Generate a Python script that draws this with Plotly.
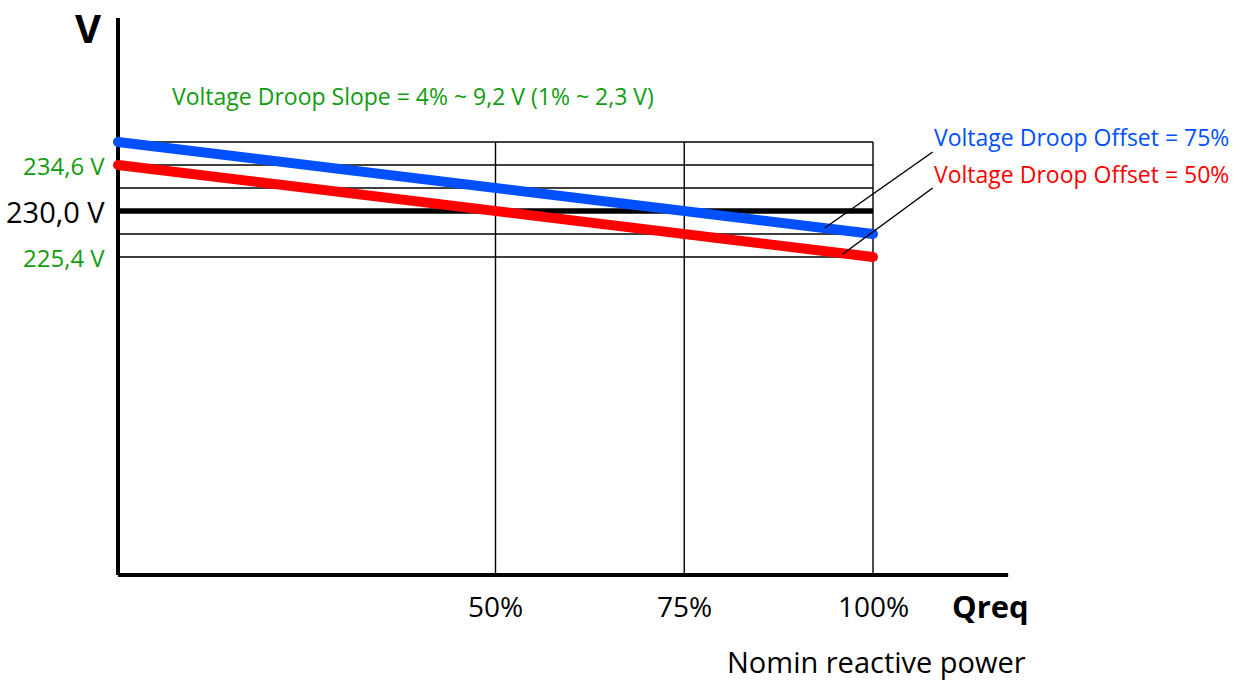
import plotly.graph_objects as go

# Reactive power request (% of nominal) and resulting voltage set points
q_pct = [0, 100]
v_offset_75 = [236.9, 227.7]
v_offset_50 = [234.6, 225.4]
v_nominal = [230.0, 230.0]

# Horizontal reference levels (2,3 V steps) and vertical reference lines
grid_levels = [236.9, 234.6, 232.3, 227.7, 225.4]
q_grid = [50, 75, 100]
q_tick_labels = ["50%", "75%", "100%"]

# Voltage labels on the left side
v_labels = [234.6, 230.0, 225.4]
v_label_text = ["234,6 V", "230,0 V", "225,4 V"]
v_label_colors = ["#119c11", "#000000", "#119c11"]

# Axis extents
x_axis_end = 117.9
y_axis_top = 249.3
y_axis_bottom = 193.6

GREEN = "#119c11"
BLUE = "#0050ff"
RED = "#ff0000"
FONT = "Open Sans"

fig = go.Figure()

# thin grid lines
for lvl in grid_levels:
    fig.add_trace(go.Scatter(x=[0, 100], y=[lvl, lvl], mode="lines",
                             line=dict(color="black", width=1.4),
                             hoverinfo="skip", showlegend=False))
for q in q_grid:
    fig.add_trace(go.Scatter(x=[q, q], y=[y_axis_bottom, max(grid_levels)], mode="lines",
                             line=dict(color="black", width=1.4),
                             hoverinfo="skip", showlegend=False))

# nominal voltage line
fig.add_trace(go.Scatter(x=q_pct, y=v_nominal, mode="lines",
                         line=dict(color="black", width=5.5),
                         hoverinfo="skip", showlegend=False))

# axes
fig.add_trace(go.Scatter(x=[0, 0], y=[y_axis_bottom, y_axis_top], mode="lines",
                         line=dict(color="black", width=4),
                         hoverinfo="skip", showlegend=False))
fig.add_trace(go.Scatter(x=[0, x_axis_end], y=[y_axis_bottom, y_axis_bottom], mode="lines",
                         line=dict(color="black", width=4),
                         hoverinfo="skip", showlegend=False))

# droop characteristics
for vals, col in [(v_offset_50, RED), (v_offset_75, BLUE)]:
    fig.add_trace(go.Scatter(x=q_pct, y=vals, mode="lines+markers",
                             line=dict(color=col, width=10),
                             marker=dict(color=col, size=10, line=dict(width=0)),
                             hoverinfo="skip", showlegend=False))

# leader lines to the curve labels
fig.add_trace(go.Scatter(x=[107.9, 93.6], y=[235.9, 228.3], mode="lines",
                         line=dict(color="black", width=1.5),
                         hoverinfo="skip", showlegend=False))
fig.add_trace(go.Scatter(x=[107.9, 96.0], y=[232.3, 225.7], mode="lines",
                         line=dict(color="black", width=1.5),
                         hoverinfo="skip", showlegend=False))

ann = []
for v, t, c in zip(v_labels, v_label_text, v_label_colors):
    ann.append(dict(x=-1.4, y=v, text=t, xanchor="right", yanchor="middle",
                    showarrow=False,
                    font=dict(family=FONT, size=29 if c == "#000000" else 24, color=c)))
for q, t in zip(q_grid, q_tick_labels):
    ann.append(dict(x=q, y=y_axis_bottom - 3.1, text=t, xanchor="center", yanchor="middle",
                    showarrow=False, font=dict(family=FONT, size=28, color="black")))
ann += [
    dict(x=-4.0, y=248.4, text="<b>V</b>", xanchor="center", yanchor="middle",
         showarrow=False, font=dict(family=FONT, size=40, color="black")),
    dict(x=110.2, y=y_axis_bottom - 3.1, text="<b>Qreq</b>", xanchor="left", yanchor="middle",
         showarrow=False, font=dict(family=FONT, size=31, color="black")),
    dict(x=120.4, y=y_axis_bottom - 8.6, text="Nomin reactive power", xanchor="right",
         yanchor="middle", showarrow=False, borderpad=0,
         font=dict(family=FONT, size=29, color="black")),
    dict(x=6.9, y=241.5, text="Voltage Droop Slope = 4% ~ 9,2 V (1% ~ 2,3 V)",
         xanchor="left", yanchor="middle", showarrow=False,
         font=dict(family=FONT, size=23, color=GREEN)),
    dict(x=107.8, y=237.4, text="Voltage Droop Offset = 75%", xanchor="left", yanchor="middle",
         showarrow=False, font=dict(family=FONT, size=23, color=BLUE)),
    dict(x=107.8, y=233.7, text="Voltage Droop Offset = 50%", xanchor="left", yanchor="middle",
         showarrow=False, font=dict(family=FONT, size=23, color=RED)),
]

px_per_pct = 7.55
px_per_volt = 10.0
x0 = -118 / px_per_pct
x1 = x0 + 1243 / px_per_pct
y_top = 230.0 + 211 / px_per_volt
y_bot = y_top - 682 / px_per_volt

fig.update_layout(
    width=1243, height=682,
    margin=dict(l=0, r=0, t=0, b=0),
    paper_bgcolor="white", plot_bgcolor="white",
    xaxis=dict(range=[x0, x1], visible=False, fixedrange=True),
    yaxis=dict(range=[y_bot, y_top], visible=False, fixedrange=True),
    annotations=ann,
    showlegend=False,
)

fig.write_html("out.html", config={"displayModeBar": False})
